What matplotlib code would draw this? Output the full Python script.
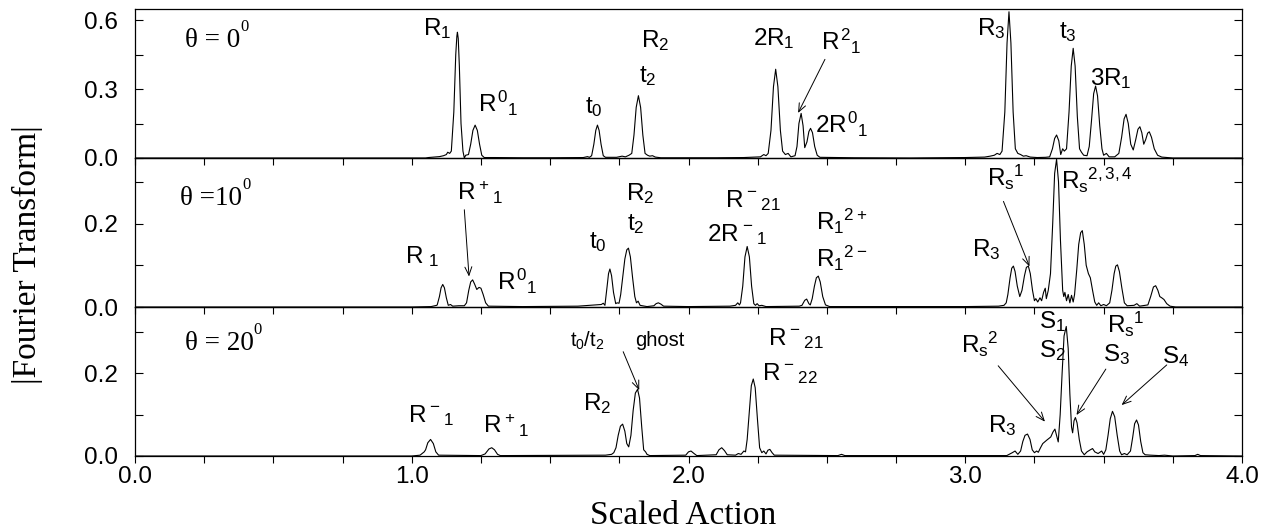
import matplotlib
matplotlib.use("Agg")
import matplotlib.pyplot as plt
from matplotlib.ticker import MultipleLocator, FixedLocator

plt.rcParams['font.family'] = ['Liberation Sans', 'DejaVu Sans']
plt.rcParams['mathtext.fontset'] = 'custom'
plt.rcParams['mathtext.rm'] = 'Liberation Sans'
plt.rcParams['mathtext.it'] = 'Liberation Sans'
plt.rcParams['mathtext.sf'] = 'Liberation Sans'
plt.rcParams['mathtext.bf'] = 'Liberation Sans:bold'

# ---------------- data ----------------
theta0_x = [0.0, 1.05, 1.06, 1.08, 1.10, 1.115, 1.125, 1.13, 1.137,
            1.143, 1.152, 1.159, 1.163, 1.165, 1.168, 1.172, 1.178, 1.185, 1.19,
            1.195, 1.205, 1.213, 1.221, 1.229, 1.237, 1.245, 1.253, 1.262,
            1.30, 1.40, 1.50, 1.62, 1.635, 1.642,
            1.650, 1.658, 1.665, 1.671, 1.677, 1.684, 1.692, 1.70,
            1.74, 1.76, 1.772, 1.785,
            1.795, 1.803, 1.811, 1.819, 1.827, 1.835, 1.843, 1.852, 1.86, 1.87, 1.88, 1.90,
            2.0, 2.1, 2.2, 2.26, 2.272, 2.28,
            2.288, 2.298, 2.307, 2.315, 2.323, 2.332, 2.340, 2.35, 2.36, 2.37, 2.385,
            2.392, 2.399, 2.407, 2.414, 2.42,
            2.428, 2.435, 2.441, 2.448, 2.456, 2.465, 2.475,
            2.6, 2.8, 3.0, 3.07, 3.09, 3.105, 3.115, 3.125,
            3.133, 3.143, 3.151, 3.158, 3.165, 3.173, 3.181, 3.19, 3.20, 3.21, 3.22, 3.235, 3.26, 3.29,
            3.305, 3.315, 3.323, 3.330, 3.338, 3.345, 3.352, 3.358,
            3.366, 3.375, 3.383, 3.390, 3.397, 3.405, 3.413, 3.42, 3.428,
            3.440, 3.448, 3.456, 3.464, 3.471, 3.478, 3.486, 3.494, 3.50, 3.51, 3.52, 3.54,
            3.555, 3.565, 3.574, 3.581, 3.589, 3.598, 3.607,
            3.616, 3.624, 3.631, 3.638, 3.645,
            3.652, 3.659, 3.665, 3.673, 3.683, 3.695, 3.71, 3.73, 3.75, 4.0]
theta0_y = [0.0, 0.0, 0.002, 0.004, 0.006, 0.010, 0.015, 0.025, 0.020,
            0.03, 0.20, 0.45, 0.53, 0.547, 0.52, 0.40, 0.15, 0.03, 0.0,
            0.012, 0.015, 0.06, 0.12, 0.143, 0.12, 0.06, 0.012, 0.002,
            0.002, 0.001, 0.001, 0.002, 0.006, 0.003,
            0.01, 0.06, 0.12, 0.143, 0.12, 0.06, 0.01, 0.003,
            0.003, 0.008, 0.005, 0.012,
            0.02, 0.10, 0.22, 0.271, 0.22, 0.10, 0.02, 0.012, 0.008, 0.010, 0.004, 0.001,
            0.001, 0.001, 0.002, 0.005, 0.015, 0.010,
            0.02, 0.12, 0.31, 0.386, 0.31, 0.12, 0.03, 0.015, 0.02, 0.005, 0.010,
            0.05, 0.15, 0.194, 0.14, 0.045,
            0.07, 0.115, 0.129, 0.11, 0.05, 0.012, 0.003,
            0.001, 0.0, 0.002, 0.004, 0.008, 0.012, 0.02, 0.015,
            0.03, 0.20, 0.50, 0.636, 0.50, 0.20, 0.04, 0.02, 0.015, 0.008, 0.010, 0.004, 0.002, 0.003,
            0.005, 0.04, 0.085, 0.10, 0.075, 0.015, 0.04, 0.03,
            0.04, 0.20, 0.40, 0.477, 0.40, 0.18, 0.04, 0.025, 0.012,
            0.01, 0.05, 0.16, 0.28, 0.313, 0.27, 0.14, 0.04, 0.012, 0.02, 0.005, 0.005,
            0.02, 0.09, 0.17, 0.19, 0.15, 0.06, 0.035,
            0.08, 0.125, 0.136, 0.11, 0.06,
            0.08, 0.108, 0.114, 0.09, 0.04, 0.012, 0.004, 0.002, 0.0, 0.0]

theta10_x = [0.0, 1.0, 1.07, 1.09,
             1.092, 1.100, 1.106, 1.112, 1.118, 1.125, 1.132, 1.14, 1.148, 1.17,
             1.19, 1.198, 1.206, 1.213, 1.220, 1.227, 1.235, 1.243, 1.250, 1.258, 1.267, 1.277,
             1.4, 1.6, 1.685, 1.692, 1.698,
             1.700, 1.706, 1.711, 1.716, 1.722, 1.729, 1.737, 1.742, 1.749, 1.755,
             1.762, 1.770, 1.777, 1.783, 1.790, 1.798, 1.806, 1.812, 1.818, 1.825, 1.85,
             1.875, 1.883, 1.891, 1.90, 1.91,
             2.0, 2.15, 2.17, 2.178, 2.184,
             2.188, 2.196, 2.204, 2.212, 2.220, 2.228, 2.236, 2.242, 2.248, 2.255, 2.265, 2.28,
             2.40, 2.41, 2.42, 2.427, 2.435, 2.44,
             2.447, 2.455, 2.462, 2.469, 2.476, 2.485, 2.495, 2.51,
             3.0, 3.12, 3.14, 3.148,
             3.154, 3.162, 3.168, 3.174, 3.180, 3.188, 3.197,
             3.205, 3.214, 3.221, 3.228, 3.235, 3.243, 3.25, 3.255, 3.262, 3.27, 3.276, 3.283, 3.289, 3.293, 3.30,
             3.308, 3.316, 3.323, 3.330, 3.337, 3.344, 3.352, 3.356, 3.360, 3.366, 3.372, 3.378, 3.384, 3.39,
             3.395, 3.403, 3.41, 3.417, 3.423, 3.430, 3.437, 3.445, 3.452, 3.46, 3.468, 3.475, 3.482, 3.49, 3.5,
             3.51, 3.522, 3.530, 3.538, 3.544, 3.550, 3.557, 3.566, 3.575, 3.585,
             3.61, 3.62, 3.63,
             3.66, 3.670, 3.680, 3.688, 3.696, 3.703, 3.71, 3.718, 3.728, 3.74, 3.76, 4.0]
theta10_y = [0.0, 0.0, 0.001, 0.004,
             0.005, 0.025, 0.046, 0.054, 0.046, 0.022, 0.004, 0.006, 0.002, 0.003,
             0.003, 0.010, 0.040, 0.060, 0.065, 0.055, 0.042, 0.047, 0.045, 0.030, 0.010, 0.002,
             0.001, 0.002, 0.006, 0.009, 0.004,
             0.015, 0.05, 0.08, 0.091, 0.075, 0.035, 0.008, 0.010, 0.009, 0.03,
             0.07, 0.115, 0.137, 0.141, 0.12, 0.07, 0.025, 0.010, 0.014, 0.004, 0.001,
             0.003, 0.008, 0.010, 0.007, 0.002,
             0.001, 0.002, 0.004, 0.010, 0.005,
             0.010, 0.05, 0.12, 0.145, 0.12, 0.05, 0.008, 0.004, 0.008, 0.003, 0.004, 0.001,
             0.002, 0.004, 0.016, 0.019, 0.008, 0.005,
             0.02, 0.05, 0.07, 0.074, 0.06, 0.025, 0.005, 0.001,
             0.001, 0.002, 0.004, 0.010,
             0.03, 0.07, 0.093, 0.098, 0.085, 0.05, 0.025,
             0.04, 0.075, 0.095, 0.098, 0.08, 0.04, 0.015, 0.02, 0.012, 0.022, 0.015, 0.035, 0.045, 0.02, 0.04,
             0.08, 0.20, 0.32, 0.354, 0.30, 0.16, 0.04, 0.025, 0.035, 0.015, 0.03, 0.010, 0.028, 0.012,
             0.03, 0.09, 0.15, 0.178, 0.183, 0.15, 0.10, 0.08, 0.07, 0.04, 0.012, 0.004, 0.010, 0.003, 0.006,
             0.003, 0.010, 0.04, 0.08, 0.098, 0.101, 0.085, 0.045, 0.010, 0.003,
             0.004, 0.008, 0.002,
             0.005, 0.025, 0.048, 0.051, 0.04, 0.025, 0.022, 0.018, 0.008, 0.002, 0.0, 0.0]

theta20_x = [0.0, 1.0, 1.03, 1.045,
             1.05, 1.058, 1.068, 1.078, 1.087, 1.097,
             1.25, 1.265, 1.279, 1.289, 1.299, 1.31, 1.32,
             1.70, 1.722, 1.73, 1.738,
             1.746, 1.754, 1.762, 1.770, 1.777, 1.784,
             1.792, 1.800, 1.808, 1.816, 1.823, 1.831, 1.838, 1.845, 1.85, 1.86,
             1.99, 2.0, 2.009, 2.02, 2.03,
             2.10, 2.11, 2.12, 2.13, 2.14,
             2.17, 2.18, 2.19, 2.20, 2.206,
             2.212, 2.220, 2.227, 2.234, 2.241, 2.249, 2.257, 2.265, 2.272, 2.28, 2.287, 2.294, 2.302, 2.31,
             2.54, 2.553, 2.565,
             3.15, 3.17, 3.18, 3.19, 3.20,
             3.208, 3.216, 3.225, 3.234, 3.242, 3.25, 3.258, 3.264, 3.272,
             3.28, 3.294, 3.309, 3.317, 3.324, 3.330, 3.336,
             3.343, 3.350, 3.357, 3.365, 3.372, 3.378, 3.384, 3.388,
             3.393, 3.398, 3.404, 3.412, 3.42, 3.43, 3.44,
             3.452, 3.46, 3.468, 3.48, 3.493, 3.50,
             3.508, 3.516, 3.524, 3.532, 3.540, 3.549, 3.558, 3.565, 3.575, 3.585,
             3.597, 3.605, 3.612, 3.619, 3.626, 3.634, 3.642, 3.65, 3.67, 3.70, 3.72, 3.75,
             3.83, 3.84, 3.85, 4.0]
theta20_y = [0.0, 0.0, 0.002, 0.010,
             0.015, 0.032, 0.040, 0.030, 0.010, 0.002,
             0.001, 0.005, 0.017, 0.020, 0.015, 0.004, 0.001,
             0.002, 0.004, 0.008, 0.020,
             0.05, 0.072, 0.077, 0.06, 0.03, 0.022,
             0.05, 0.11, 0.152, 0.161, 0.14, 0.07, 0.015, 0.010, 0.004, 0.001,
             0.002, 0.010, 0.012, 0.006, 0.001,
             0.003, 0.015, 0.020, 0.013, 0.003,
             0.002, 0.006, 0.004, 0.012, 0.010,
             0.04, 0.11, 0.17, 0.186, 0.165, 0.09, 0.02, 0.008, 0.012, 0.005, 0.014, 0.016, 0.008, 0.002,
             0.001, 0.004, 0.001,
             0.001, 0.008, 0.012, 0.004, 0.012,
             0.035, 0.05, 0.053, 0.04, 0.015, 0.008, 0.012, 0.009, 0.02,
             0.03, 0.038, 0.046, 0.058, 0.065, 0.05, 0.034,
             0.10, 0.20, 0.29, 0.313, 0.26, 0.15, 0.07, 0.056,
             0.085, 0.093, 0.08, 0.04, 0.012, 0.003, 0.010,
             0.015, 0.018, 0.010, 0.006, 0.012, 0.004,
             0.015, 0.05, 0.09, 0.108, 0.095, 0.05, 0.012, 0.003, 0.006, 0.003,
             0.012, 0.045, 0.078, 0.087, 0.075, 0.035, 0.008, 0.003, 0.002, 0.001, 0.002, 0.0,
             0.001, 0.004, 0.001, 0.0]

panel_titles = ["\u03b8 = 0", "\u03b8 =10", "\u03b8 = 20"]
title_pos = [(0.18, 0.484), (0.163, 0.245), (0.18, 0.257)]
ylims = [0.648, 0.357, 0.36]
ymajor = [[0.0, 0.3, 0.6], [0.0, 0.2], [0.0, 0.2]]
yminor = [[0.15, 0.45], [0.1, 0.3], [0.1, 0.3]]
xticks = [0.0, 1.0, 2.0, 3.0, 4.0]

labels0 = [(r"$R_1$", 1.04, 0.535), (r"$R^0{}_1$", 1.24, 0.20), (r"$t_0$", 1.626, 0.196),
           (r"$R_2$", 1.827, 0.484), (r"$t_2$", 1.82, 0.33), (r"$2R_1$", 2.234, 0.49),
           (r"$R^2{}_1$", 2.48, 0.47), (r"$2R^0{}_1$", 2.457, 0.11), (r"$R_3$", 3.041, 0.535),
           (r"$t_3$", 3.34, 0.52), (r"$3R_1$", 3.451, 0.317)]
labels10 = [(r"$R\;{}_1$", 0.976, 0.105), (r"$R^+{}_1$", 1.162, 0.257), (r"$R^0{}_1$", 1.309, 0.041),
            (r"$t_0$", 1.642, 0.14), (r"$R_2$", 1.773, 0.257), (r"$t_2$", 1.777, 0.185),
            (r"$R^-{}_{21}$", 2.132, 0.239), (r"$2R^-{}_1$", 2.066, 0.157),
            (r"$R_1{}^{2+}$", 2.461, 0.185), (r"$R_1{}^{2-}$", 2.461, 0.097),
            (r"$R_3$", 3.026, 0.121), (r"$R_s{}^1$", 3.077, 0.289), (r"$R_s{}^{2,3,4}$", 3.346, 0.283)]
labels20 = [(r"$R^-{}_1$", 0.988, 0.083), (r"$R^+{}_1$", 1.259, 0.056), (r"$R_2$", 1.62, 0.111),
            (r"$R^-{}_{21}$", 2.287, 0.269), (r"$R^-{}_{22}$", 2.264, 0.184), (r"$R_3$", 3.081, 0.058),
            (r"$R_s{}^2$", 2.985, 0.249), (r"$S_1$", 3.268, 0.309), (r"$S_2$", 3.268, 0.238),
            (r"$R_s{}^1$", 3.513, 0.296), (r"$S_3$", 3.497, 0.230), (r"$S_4$", 3.71, 0.224)]
small20 = [(r"$t_0/t_2$", 1.572, 0.265), ("ghost", 1.807, 0.265)]

arrows0 = [((2.493, 0.429), (2.396, 0.196))]
arrows10 = [((1.190, 0.233), (1.207, 0.073)), ((3.138, 0.253), (3.232, 0.097))]
arrows20 = [((1.764, 0.252), (1.822, 0.159)), ((3.119, 0.218), (3.288, 0.083)),
            ((3.508, 0.210), (3.402, 0.099)), ((3.728, 0.220), (3.565, 0.123))]

series = [(theta0_x, theta0_y), (theta10_x, theta10_y), (theta20_x, theta20_y)]
all_labels = [labels0, labels10, labels20]
all_arrows = [arrows0, arrows10, arrows20]

# ---------------- figure ----------------
W, H = 1261, 531
fig = plt.figure(figsize=(W / 100, H / 100), dpi=100)
left = 135 / W
width = (1242 - 135) / W
ph = 149 / H
bottoms = [(H - 158) / H, (H - 307) / H, (H - 456) / H]

LAB = 17.5
for i in range(3):
    ax = fig.add_axes([left, bottoms[i], width, ph])
    ax.patch.set_visible(False)
    x, y = series[i]
    ax.plot(x, y, color='black', lw=0.8, zorder=3)
    ax.set_xlim(0, 4)
    ax.set_ylim(0, ylims[i])
    ax.xaxis.set_major_locator(FixedLocator(xticks))
    ax.xaxis.set_minor_locator(MultipleLocator(0.25))
    ax.yaxis.set_major_locator(FixedLocator(ymajor[i]))
    ax.yaxis.set_minor_locator(FixedLocator(yminor[i]))
    ax.set_yticklabels([f"{v:.1f}" for v in ymajor[i]])
    ax.tick_params(axis='x', which='both', direction='out', length=5, width=0.8,
                   top=False, bottom=True, labelsize=LAB, pad=2)
    ax.tick_params(axis='y', which='both', direction='in', length=5.5, width=0.8,
                   left=True, right=True, labelsize=LAB, pad=12)
    if i < 2:
        ax.set_xticklabels([])
    else:
        ax.set_xticklabels([f"{v:.1f}" for v in xticks])
    for s in ax.spines.values():
        s.set_linewidth(0.9)

    tx, ty = title_pos[i]
    t = ax.text(tx, ty, panel_titles[i], family=['Liberation Serif', 'DejaVu Serif'],
                fontsize=19.5, ha='left', va='baseline')
    ax.annotate("0", xy=(1.0, 0.72), xycoords=t, ha='left', va='bottom',
                family=['Liberation Serif', 'DejaVu Serif'], fontsize=12)

    for lab, lx, ly in all_labels[i]:
        ax.text(lx, ly, lab, fontsize=LAB, ha='left', va='baseline', zorder=4)
    for tail, head in all_arrows[i]:
        ax.annotate("", xy=head, xytext=tail,
                    arrowprops=dict(arrowstyle='->,head_length=0.6,head_width=0.25',
                                    lw=0.7, color='black', shrinkA=0, shrinkB=0))
    if i == 2:
        for lab, lx, ly in small20:
            ax.text(lx, ly, lab, fontsize=14.5, ha='left', va='baseline')

fig.text(27 / W, 1 - 255 / H, "|Fourier Transform|", rotation=90,
         family=['Liberation Serif', 'DejaVu Serif'], fontsize=24, ha='center', va='center')
fig.text(683 / W, 1 - 524 / H, "Scaled Action", family=['Liberation Serif', 'DejaVu Serif'],
         fontsize=24, ha='center', va='baseline')

fig.savefig("out.png", dpi=100)
